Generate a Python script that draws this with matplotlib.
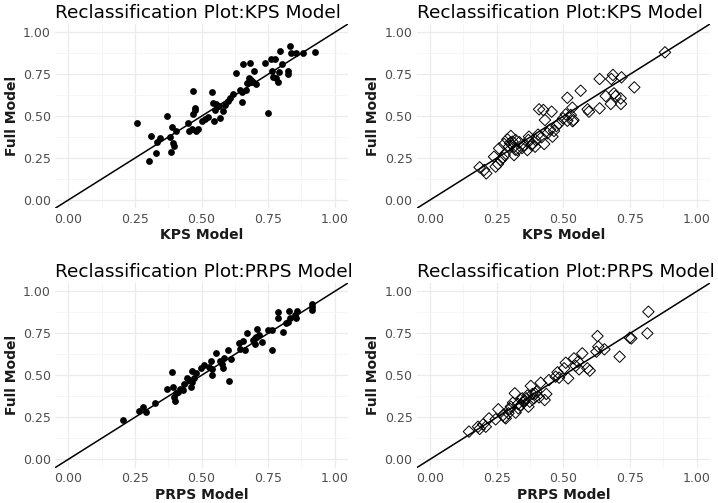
import matplotlib.pyplot as plt
import numpy as np

# Painel 1: KPS (pontos cheios)
kps_x1 = [0.256, 0.309, 0.304, 0.328, 0.334, 0.344, 0.369, 0.381, 0.391, 0.403, 0.394, 0.396,
          0.384, 0.450, 0.454, 0.466, 0.469, 0.474, 0.469, 0.481, 0.486, 0.500, 0.513, 0.525,
          0.540, 0.544, 0.549, 0.548, 0.559, 0.569, 0.579, 0.588, 0.600, 0.606, 0.619, 0.631,
          0.644, 0.653, 0.653, 0.654, 0.666, 0.671, 0.679, 0.681, 0.684, 0.694, 0.696, 0.706,
          0.739, 0.749, 0.760, 0.765, 0.769, 0.776, 0.781, 0.789, 0.790, 0.794, 0.801, 0.825,
          0.826, 0.831, 0.836, 0.855, 0.880, 0.926, 0.476, 0.556, 0.566, 0.686]
kps_y1 = [0.461, 0.382, 0.233, 0.278, 0.348, 0.372, 0.501, 0.378, 0.433, 0.414, 0.338, 0.322,
          0.288, 0.457, 0.414, 0.425, 0.513, 0.547, 0.650, 0.414, 0.425, 0.473, 0.481, 0.493,
          0.646, 0.577, 0.537, 0.473, 0.561, 0.487, 0.531, 0.567, 0.592, 0.606, 0.632, 0.759,
          0.656, 0.583, 0.646, 0.809, 0.656, 0.696, 0.726, 0.819, 0.706, 0.706, 0.771, 0.692,
          0.819, 0.521, 0.839, 0.769, 0.736, 0.839, 0.730, 0.702, 0.765, 0.891, 0.809, 0.771,
          0.750, 0.920, 0.879, 0.875, 0.879, 0.881, 0.535, 0.570, 0.560, 0.718]

# Painel 2: KPS (losangos)
kps_x2 = [0.186, 0.203, 0.211, 0.246, 0.240, 0.259, 0.265, 0.278, 0.280, 0.290, 0.296, 0.303,
          0.309, 0.315, 0.321, 0.328, 0.315, 0.353, 0.365, 0.371, 0.384, 0.394, 0.396, 0.409,
          0.418, 0.425, 0.428, 0.431, 0.440, 0.456, 0.459, 0.465, 0.474, 0.484, 0.499, 0.509,
          0.515, 0.515, 0.528, 0.534, 0.538, 0.565, 0.591, 0.596, 0.636, 0.636, 0.659, 0.678,
          0.680, 0.686, 0.690, 0.696, 0.715, 0.716, 0.718, 0.766, 0.881, 0.369, 0.272, 0.335,
          0.345, 0.405, 0.300, 0.320, 0.450, 0.380, 0.535, 0.255]
kps_y2 = [0.195, 0.179, 0.159, 0.199, 0.258, 0.308, 0.239, 0.334, 0.268, 0.362, 0.318, 0.382,
          0.348, 0.318, 0.358, 0.298, 0.268, 0.328, 0.298, 0.378, 0.334, 0.318, 0.358, 0.541,
          0.374, 0.537, 0.334, 0.477, 0.398, 0.527, 0.378, 0.412, 0.441, 0.457, 0.487, 0.511,
          0.473, 0.610, 0.507, 0.551, 0.477, 0.652, 0.541, 0.527, 0.722, 0.547, 0.620, 0.573,
          0.722, 0.746, 0.636, 0.620, 0.606, 0.573, 0.732, 0.672, 0.881, 0.358, 0.250, 0.345,
          0.310, 0.390, 0.340, 0.300, 0.420, 0.330, 0.470, 0.215]

# Painel 3: PRPS (pontos cheios)
prps_x1 = [0.206, 0.266, 0.279, 0.291, 0.325, 0.369, 0.390, 0.394, 0.398, 0.400, 0.406, 0.419,
           0.431, 0.434, 0.446, 0.459, 0.463, 0.466, 0.473, 0.481, 0.498, 0.509, 0.529, 0.535,
           0.540, 0.539, 0.556, 0.571, 0.579, 0.584, 0.600, 0.604, 0.609, 0.640, 0.646, 0.656,
           0.663, 0.669, 0.694, 0.700, 0.706, 0.709, 0.715, 0.728, 0.750, 0.763, 0.763, 0.788,
           0.788, 0.806, 0.816, 0.825, 0.829, 0.831, 0.850, 0.853, 0.859, 0.913, 0.913, 0.915,
           0.452, 0.577, 0.700, 0.412]
prps_y1 = [0.234, 0.288, 0.313, 0.280, 0.337, 0.417, 0.522, 0.433, 0.373, 0.349, 0.393, 0.417,
           0.413, 0.448, 0.482, 0.433, 0.462, 0.528, 0.482, 0.516, 0.542, 0.562, 0.552, 0.587,
           0.502, 0.536, 0.635, 0.587, 0.546, 0.601, 0.651, 0.466, 0.595, 0.694, 0.655, 0.706,
           0.651, 0.750, 0.710, 0.686, 0.726, 0.776, 0.740, 0.700, 0.770, 0.770, 0.651, 0.879,
           0.839, 0.760, 0.810, 0.819, 0.883, 0.839, 0.859, 0.839, 0.883, 0.909, 0.889, 0.925,
           0.470, 0.570, 0.720, 0.400]

# Painel 4: PRPS (losangos)
prps_x2 = [0.146, 0.180, 0.186, 0.199, 0.209, 0.221, 0.246, 0.256, 0.274, 0.284, 0.294, 0.303,
           0.311, 0.318, 0.321, 0.331, 0.340, 0.346, 0.353, 0.361, 0.369, 0.374, 0.378, 0.384,
           0.390, 0.399, 0.409, 0.415, 0.430, 0.436, 0.446, 0.471, 0.478, 0.484, 0.503, 0.509,
           0.518, 0.540, 0.546, 0.555, 0.559, 0.571, 0.590, 0.599, 0.624, 0.628, 0.631, 0.654,
           0.711, 0.749, 0.755, 0.815, 0.819, 0.280, 0.330, 0.355, 0.365, 0.395, 0.300]
prps_y2 = [0.165, 0.194, 0.181, 0.208, 0.194, 0.244, 0.238, 0.298, 0.264, 0.244, 0.274, 0.313,
           0.337, 0.393, 0.278, 0.304, 0.323, 0.363, 0.343, 0.363, 0.313, 0.343, 0.437, 0.389,
           0.363, 0.403, 0.369, 0.456, 0.353, 0.389, 0.472, 0.492, 0.518, 0.486, 0.542, 0.575,
           0.482, 0.601, 0.556, 0.581, 0.536, 0.631, 0.542, 0.528, 0.641, 0.734, 0.671, 0.655,
           0.611, 0.724, 0.720, 0.750, 0.879, 0.250, 0.330, 0.350, 0.380, 0.390, 0.300]

ticks = [0.00, 0.25, 0.50, 0.75, 1.00]
tick_labels = ['0.00', '0.25', '0.50', '0.75', '1.00']

fig = plt.figure(figsize=(7.18, 5.03), dpi=100)
W, H = 718, 503
# posições dos painéis em pixels (esquerda, topo, direita, base)
caixas = [(55, 24, 348, 208.4), (416.7, 24, 710, 208.4),
          (55, 283, 348, 467.7), (416.7, 283, 710, 467.7)]
paineis = [(kps_x1, kps_y1, 'o', 'KPS Model', 'Reclassification Plot:KPS Model'),
           (kps_x2, kps_y2, 'D', 'KPS Model', 'Reclassification Plot:KPS Model'),
           (prps_x1, prps_y1, 'o', 'PRPS Model', 'Reclassification Plot:PRPS Model'),
           (prps_x2, prps_y2, 'D', 'PRPS Model', 'Reclassification Plot:PRPS Model')]

for (l, t, r, b), (xs, ys, mk, xlab, titulo) in zip(caixas, paineis):
    ax = fig.add_axes([l / W, 1 - b / H, (r - l) / W, (b - t) / H])
    ax.set_xlim(-0.05, 1.05)
    ax.set_ylim(-0.05, 1.05)
    for s in ax.spines.values():
        s.set_visible(False)
    ax.set_xticks(ticks)
    ax.set_yticks(ticks)
    ax.set_xticklabels(tick_labels)
    ax.set_yticklabels(tick_labels)
    ax.set_xticks([0.125, 0.375, 0.625, 0.875], minor=True)
    ax.set_yticks([0.125, 0.375, 0.625, 0.875], minor=True)
    ax.tick_params(which='both', length=0, labelsize=9, labelcolor='#4D4D4D', pad=3)
    ax.grid(which='major', color='#EBEBEB', lw=0.9)
    ax.grid(which='minor', color='#F3F3F3', lw=0.5)
    ax.set_axisbelow(True)
    ax.axline((0, 0), slope=1, color='black', lw=1.1, zorder=2)
    if mk == 'o':
        ax.scatter(xs, ys, s=24, c='black', marker='o', lw=0, zorder=3)
    else:
        ax.scatter(xs, ys, s=34, facecolors='none', edgecolors='black',
                   marker='D', lw=0.7, zorder=3)
    ax.set_xlabel(xlab, fontsize=10, fontweight='bold', color='#1A1A1A', labelpad=2)
    ax.set_ylabel('Full Model', fontsize=10, fontweight='bold', color='#1A1A1A', labelpad=3)
    ax.set_title(titulo, loc='left', fontsize=13.3, color='black', pad=4)

fig.savefig('out.png', dpi=100)
